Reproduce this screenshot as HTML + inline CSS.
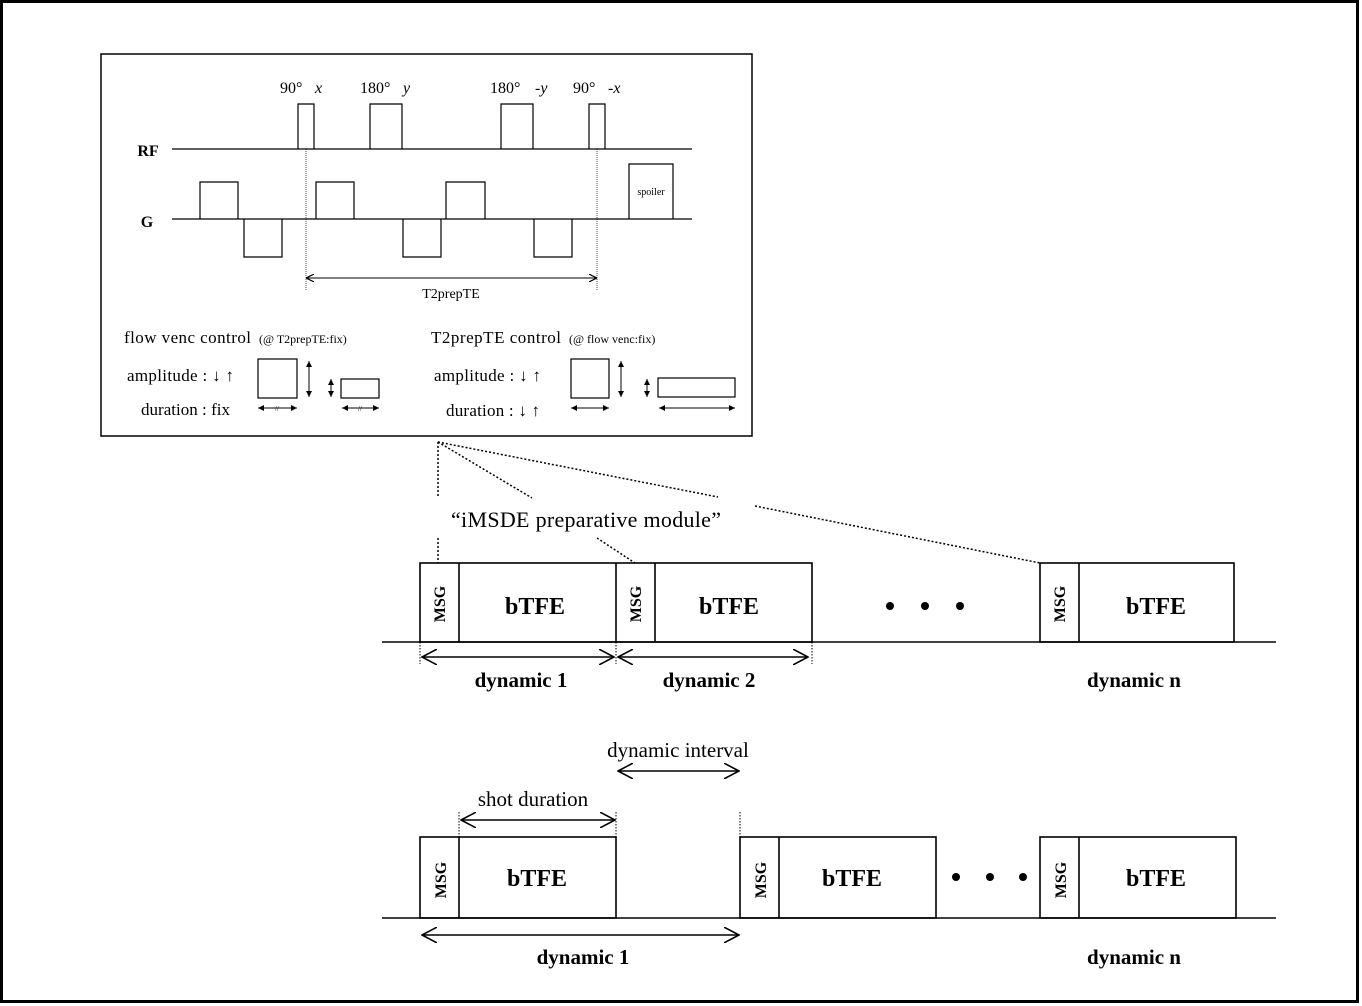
<!DOCTYPE html>
<html><head><meta charset="utf-8"><style>
html,body{margin:0;padding:0;background:#fff}
svg{display:block}
text{font-family:"Liberation Serif",serif;fill:#000}
</style></head><body>
<svg width="1362" height="1006" viewBox="0 0 1362 1006" xmlns="http://www.w3.org/2000/svg">
<defs>
<marker id="ah" viewBox="0 0 10 10" refX="9" refY="5" markerWidth="8" markerHeight="8" orient="auto-start-reverse" markerUnits="userSpaceOnUse"><path d="M0,0 L10,5 L0,10" fill="none" stroke="#000" stroke-width="1.5"/></marker>
<marker id="big" viewBox="0 0 20 20" refX="19" refY="10" markerWidth="16" markerHeight="16" orient="auto-start-reverse" markerUnits="userSpaceOnUse"><path d="M0,0 L19,10 L0,20" fill="none" stroke="#000" stroke-width="2"/></marker>
<marker id="sm" viewBox="0 0 10 10" refX="10" refY="5" markerWidth="6" markerHeight="6" orient="auto-start-reverse" markerUnits="userSpaceOnUse"><path d="M0,0 L10,5 L0,10 Z" fill="#000"/></marker>
</defs>
<rect x="1.5" y="1.5" width="1356" height="1000" fill="none" stroke="#000" stroke-width="3"/>
<rect x="101" y="54" width="651" height="382" fill="none" stroke="#000" stroke-width="1.5"/>
<g fill="none" stroke="#000" stroke-width="1.2">
<line x1="172" y1="149" x2="692" y2="149"/>
<path d="M298,149V104H314V149"/>
<path d="M370,149V104H402V149"/>
<path d="M501,149V104H533V149"/>
<path d="M589,149V104H605V149"/>
<line x1="172" y1="219" x2="692" y2="219"/>
<path d="M200,219V182H238V219"/>
<path d="M316,219V182H354V219"/>
<path d="M446,219V182H485V219"/>
<path d="M244,219V257H282V219"/>
<path d="M403,219V257H441V219"/>
<path d="M534,219V257H572V219"/>
<path d="M629,219V164H673V219"/>
</g>
<g stroke="#000" stroke-width="0.7" stroke-dasharray="1,1">
<line x1="306" y1="149" x2="306" y2="290"/>
<line x1="597" y1="149" x2="597" y2="290"/>
</g>
<line x1="307" y1="278" x2="596" y2="278" stroke="#000" stroke-width="1" marker-start="url(#ah)" marker-end="url(#ah)"/>
<text x="451" y="298" font-size="14" text-anchor="middle">T2prepTE</text>
<text x="148" y="156" font-size="16" font-weight="bold" text-anchor="middle">RF</text>
<text x="147" y="227" font-size="16" font-weight="bold" text-anchor="middle">G</text>
<text x="280" y="93" font-size="16">90°</text><text x="315" y="93" font-size="16" font-style="italic">x</text>
<text x="360" y="93" font-size="16">180°</text><text x="403" y="93" font-size="16" font-style="italic">y</text>
<text x="490" y="93" font-size="16">180°</text><text x="535" y="93" font-size="16" font-style="italic">-y</text>
<text x="573" y="93" font-size="16">90°</text><text x="608" y="93" font-size="16" font-style="italic">-x</text>
<text x="651" y="195" font-size="10" text-anchor="middle">spoiler</text>
<text x="124" y="343" font-size="17" textLength="127">flow venc  control</text>
<text x="259" y="343" font-size="12">(@ T2prepTE:fix)</text>
<text x="431" y="343" font-size="17" textLength="130">T2prepTE  control</text>
<text x="569" y="343" font-size="12">(@ flow venc:fix)</text>
<text x="127" y="381" font-size="17" textLength="107">amplitude : ↓ ↑</text>
<text x="141" y="415" font-size="17" textLength="89">duration : fix</text>
<text x="434" y="381" font-size="17" textLength="107">amplitude : ↓ ↑</text>
<text x="446" y="416" font-size="17" textLength="94">duration : ↓ ↑</text>
<g fill="none" stroke="#000" stroke-width="1.2">
<rect x="258" y="359" width="39" height="39"/>
<rect x="341" y="379" width="38" height="19"/>
<rect x="571" y="359" width="38" height="39"/>
<rect x="658" y="378" width="77" height="19"/>
</g>
<g stroke="#000" stroke-width="1">
<line x1="309" y1="361" x2="309" y2="397" marker-start="url(#sm)" marker-end="url(#sm)"/>
<line x1="331" y1="379" x2="331" y2="397" marker-start="url(#sm)" marker-end="url(#sm)"/>
<line x1="621" y1="361" x2="621" y2="397" marker-start="url(#sm)" marker-end="url(#sm)"/>
<line x1="647" y1="379" x2="647" y2="397" marker-start="url(#sm)" marker-end="url(#sm)"/>
<line x1="258" y1="408" x2="297" y2="408" marker-start="url(#sm)" marker-end="url(#sm)"/>
<line x1="342" y1="408" x2="379" y2="408" marker-start="url(#sm)" marker-end="url(#sm)"/>
<line x1="571" y1="408" x2="609" y2="408" marker-start="url(#sm)" marker-end="url(#sm)"/>
<line x1="659" y1="408" x2="735" y2="408" marker-start="url(#sm)" marker-end="url(#sm)"/>
</g>
<text x="277" y="411" font-size="7" text-anchor="middle" fill="#555">//</text>
<text x="360" y="411" font-size="7" text-anchor="middle" fill="#555">//</text>
<g stroke="#000" stroke-width="1.5" stroke-dasharray="2,2" fill="none">
<line x1="438" y1="442" x2="438" y2="497"/>
<line x1="438" y1="538" x2="438" y2="563"/>
<line x1="438" y1="442" x2="532" y2="498"/>
<line x1="597" y1="538" x2="635" y2="563"/>
<line x1="438" y1="442" x2="718" y2="497"/>
<line x1="755" y1="506" x2="1040" y2="563"/>
</g>
<text x="586" y="527" font-size="22" text-anchor="middle" textLength="270">“iMSDE  preparative module”</text>
<g fill="none" stroke="#000" stroke-width="1.6">
<line x1="382" y1="642" x2="1276" y2="642"/>
<rect x="420" y="563" width="392" height="79"/>
<line x1="459" y1="563" x2="459" y2="642"/>
<line x1="616" y1="563" x2="616" y2="642"/>
<line x1="655" y1="563" x2="655" y2="642"/>
<rect x="1040" y="563" width="194" height="79"/>
<line x1="1079" y1="563" x2="1079" y2="642"/>
</g>
<g stroke="#000" stroke-width="1" stroke-dasharray="1.5,1.5">
<line x1="420" y1="642" x2="420" y2="664"/>
<line x1="616" y1="642" x2="616" y2="664"/>
<line x1="812" y1="642" x2="812" y2="664"/>
</g>
<g stroke="#000" stroke-width="1.6">
<line x1="422" y1="657" x2="614" y2="657" marker-start="url(#big)" marker-end="url(#big)"/>
<line x1="618" y1="657" x2="808" y2="657" marker-start="url(#big)" marker-end="url(#big)"/>
</g>
<g font-size="24" font-weight="bold" text-anchor="middle">
<text x="535" y="614">bTFE</text><text x="729" y="614">bTFE</text><text x="1156" y="614">bTFE</text>
<text x="521" y="687" font-size="21">dynamic 1</text>
<text x="709" y="687" font-size="21">dynamic 2</text>
<text x="1134" y="687" font-size="21">dynamic n</text>
</g>
<g font-size="16" font-weight="bold" text-anchor="middle">
<text transform="translate(445,604) rotate(-90)">MSG</text>
<text transform="translate(641,604) rotate(-90)">MSG</text>
<text transform="translate(1065,604) rotate(-90)">MSG</text>
<text transform="translate(446,880) rotate(-90)">MSG</text>
<text transform="translate(766,880) rotate(-90)">MSG</text>
<text transform="translate(1066,880) rotate(-90)">MSG</text>
</g>
<g fill="#000">
<circle cx="890" cy="606" r="4"/><circle cx="925" cy="606" r="4"/><circle cx="960" cy="606" r="4"/>
<circle cx="956" cy="877" r="4"/><circle cx="990" cy="877" r="4"/><circle cx="1023" cy="877" r="4"/>
</g>
<g fill="none" stroke="#000" stroke-width="1.6">
<line x1="382" y1="918" x2="1276" y2="918"/>
<rect x="420" y="837" width="196" height="81"/>
<line x1="459" y1="837" x2="459" y2="918"/>
<rect x="740" y="837" width="196" height="81"/>
<line x1="779" y1="837" x2="779" y2="918"/>
<rect x="1040" y="837" width="196" height="81"/>
<line x1="1079" y1="837" x2="1079" y2="918"/>
</g>
<g stroke="#000" stroke-width="1" stroke-dasharray="1.5,1.5">
<line x1="459" y1="812" x2="459" y2="837"/>
<line x1="616" y1="812" x2="616" y2="837"/>
<line x1="740" y1="812" x2="740" y2="837"/>
</g>
<g stroke="#000" stroke-width="1.6">
<line x1="461" y1="820" x2="615" y2="820" marker-start="url(#big)" marker-end="url(#big)"/>
<line x1="618" y1="771" x2="739" y2="771" marker-start="url(#big)" marker-end="url(#big)"/>
<line x1="422" y1="935" x2="739" y2="935" marker-start="url(#big)" marker-end="url(#big)"/>
</g>
<text x="533" y="806" font-size="21" text-anchor="middle">shot duration</text>
<text x="678" y="757" font-size="21" text-anchor="middle">dynamic interval</text>
<g font-size="24" font-weight="bold" text-anchor="middle">
<text x="537" y="886">bTFE</text><text x="852" y="886">bTFE</text><text x="1156" y="886">bTFE</text>
<text x="583" y="964" font-size="21">dynamic 1</text>
<text x="1134" y="964" font-size="21">dynamic n</text>
</g>
</svg>
</body></html>
